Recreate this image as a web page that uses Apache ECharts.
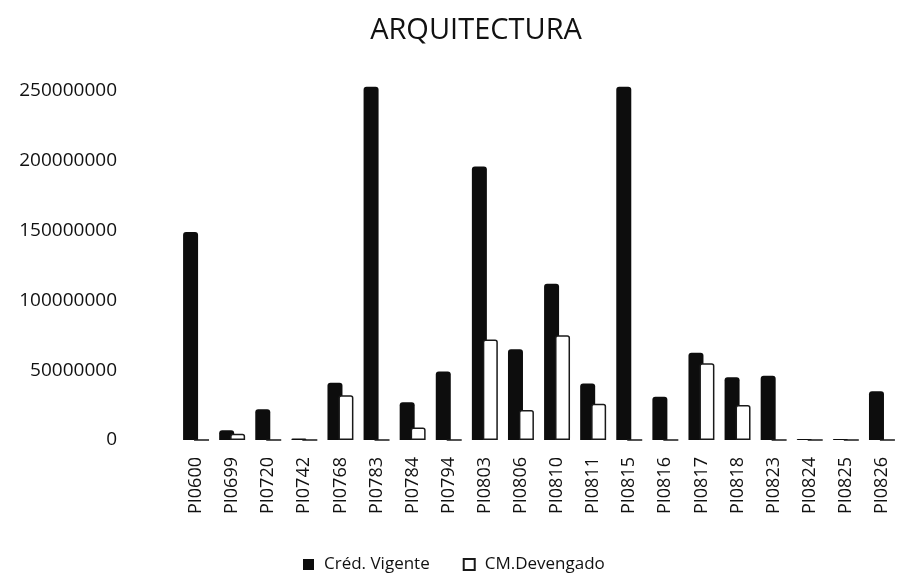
<!DOCTYPE html>
<html>
<head>
<meta charset="utf-8">
<title>ARQUITECTURA</title>
<script src="https://cdn.jsdelivr.net/npm/echarts@6/dist/echarts.min.js"></script>
<style>
  html, body { margin: 0; padding: 0; background: #fff; }
  #chart { width: 900px; height: 578px; }
</style>
</head>
<body>
<div id="chart"></div>
<script>
// Project codes on the category axis
const categories = ['PI0600', 'PI0699', 'PI0720', 'PI0742', 'PI0768', 'PI0783', 'PI0784',
  'PI0794', 'PI0803', 'PI0806', 'PI0810', 'PI0811', 'PI0815', 'PI0816', 'PI0817',
  'PI0818', 'PI0823', 'PI0824', 'PI0825', 'PI0826'];

// Current credit per project
const credVigente = [149000000, 7000000, 22000000, 1000000, 41000000, 253000000, 27000000,
  49000000, 196000000, 65000000, 112000000, 40500000, 253000000, 31000000, 62500000,
  45000000, 46000000, 800000, 800000, 35000000];

// Accrued amount per project
const cmDevengado = [0, 4500000, 0, 0, 32000000, 0, 9000000,
  0, 72000000, 21500000, 75000000, 26000000, 0, 0, 55000000,
  25000000, 0, 0, 0, 0];

// Value-axis ticks
const yMin = 0;
const yMax = 250000000;
const yStep = 50000000;

const seriesNames = ['Créd. Vigente', 'CM.Devengado'];
const font = 'Open Sans';

const chart = echarts.init(document.getElementById('chart'), null, { renderer: 'canvas' });

chart.setOption({
  backgroundColor: '#ffffff',
  animation: false,
  title: {
    text: 'ARQUITECTURA',
    left: 471,
    top: 11,
    textAlign: 'center',
    textStyle: { fontFamily: font, fontSize: 29, fontWeight: 'normal', color: '#111' }
  },
  legend: {
    data: seriesNames,
    left: 298,
    top: 551,
    itemWidth: 11,
    itemHeight: 11,
    itemGap: 33,
    icon: 'rect',
    textStyle: { fontFamily: font, fontSize: 17, color: '#111', padding: [0, 0, 0, 5] }
  },
  grid: { left: 178, right: -14, top: 91, bottom: 138 },
  xAxis: {
    type: 'category',
    data: categories,
    axisLine: { show: false },
    axisTick: { show: false },
    axisLabel: {
      rotate: 90,
      margin: 17,
      interval: 0,
      fontFamily: font,
      fontSize: 18,
      color: '#111'
    }
  },
  yAxis: {
    type: 'value',
    min: yMin,
    max: yMax,
    interval: yStep,
    axisLine: { show: false },
    axisTick: { show: false },
    splitLine: { show: false },
    axisLabel: {
      margin: 61,
      fontFamily: font,
      fontSize: 19,
      color: '#111',
      formatter: (v) => String(v)
    }
  },
  series: [
    {
      name: seriesNames[0],
      type: 'bar',
      data: credVigente,
      barWidth: 15,
      barGap: '-27%',
      clip: false,
      itemStyle: { color: '#0d0d0d', borderRadius: [3, 3, 0, 0] }
    },
    {
      name: seriesNames[1],
      type: 'bar',
      data: cmDevengado,
      barWidth: 15,
      clip: false,
      itemStyle: {
        color: '#ffffff',
        borderColor: '#1a1a1a',
        borderWidth: 1.5,
        borderRadius: [2, 2, 0, 0]
      }
    }
  ]
});
</script>
</body>
</html>
